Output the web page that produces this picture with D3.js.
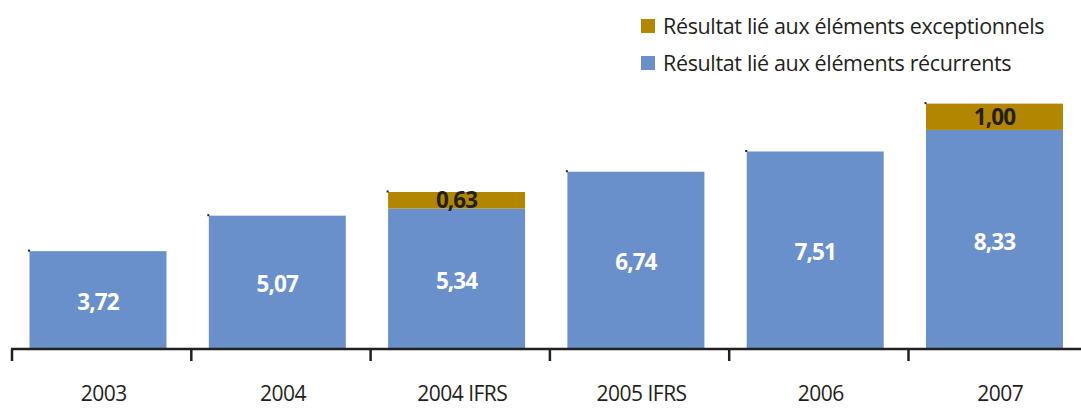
<!DOCTYPE html>
<html><head><meta charset="utf-8">
<script src="https://cdn.jsdelivr.net/npm/d3@7/dist/d3.min.js"></script>
<style>html,body{margin:0;padding:0;background:#fff;}svg{display:block;}</style>
</head><body>
<svg id="c" width="1081" height="409"></svg>
<script>
const categories = ["2003","2004","2004 IFRS","2005 IFRS","2006","2007"];
const recurrent = [3.72, 5.07, 5.34, 6.74, 7.51, 8.33];
const exceptional = [null, null, 0.63, null, null, 1.00];
const seriesNames = ["Résultat lié aux éléments exceptionnels","Résultat lié aux éléments récurrents"];
const colors = {rec:"#6990CB", exc:"#B38600", ink:"#231F20"};
const fmt = v => v.toFixed(2).replace(".", ",");

const svg = d3.select("#c");
const font = "'Open Sans', 'Noto Sans', sans-serif";
const x = d3.scaleBand().domain(categories).range([12, 12 + 6*179.3]).paddingInner(0).paddingOuter(0);
const y = d3.scaleLinear().domain([0, 10]).range([349, 349 - 263]);
const bw = x.bandwidth();
const barOff = bw*0.0976, barW = bw*0.764;

const g = svg.append("g");
g.selectAll("rect.rec").data(categories).enter().append("rect")
  .attr("x", d => x(d) + barOff).attr("width", barW)
  .attr("y", (d,i) => y(recurrent[i])).attr("height", (d,i) => y(0) - y(recurrent[i]))
  .attr("fill", colors.rec);
g.selectAll("rect.exc").data(categories.filter((d,i)=>exceptional[i]!=null)).enter().append("rect")
  .attr("x", d => x(d) + barOff).attr("width", barW)
  .attr("y", d => { const i = categories.indexOf(d); return y(recurrent[i] + exceptional[i]); })
  .attr("height", d => { const i = categories.indexOf(d); return y(recurrent[i]) - y(recurrent[i] + exceptional[i]); })
  .attr("fill", colors.exc);
g.selectAll("rect.dot").data(categories).enter().append("rect")
  .attr("x", d => x(d) + barOff - 1.5).attr("width", 2)
  .attr("y", (d,i) => y(recurrent[i] + (exceptional[i]||0)) - 1.5).attr("height", 2)
  .attr("fill", colors.ink);

g.selectAll("text.rec").data(categories).enter().append("text")
  .attr("x", d => x(d) + barOff + barW/2)
  .attr("y", (d,i) => (y(recurrent[i]) + y(0))/2 + 2)
  .attr("dy", "0.36em").attr("text-anchor","middle")
  .attr("font-family", font).attr("font-weight", 700).attr("font-size", 22.5)
  .attr("letter-spacing", -0.9)
  .attr("fill", "#fff").text((d,i) => fmt(recurrent[i]));
g.selectAll("text.exc").data(categories.filter((d,i)=>exceptional[i]!=null)).enter().append("text")
  .attr("x", d => x(d) + barOff + barW/2)
  .attr("y", d => { const i = categories.indexOf(d); return (y(recurrent[i]) + y(recurrent[i]+exceptional[i]))/2; })
  .attr("dy", "0.36em").attr("text-anchor","middle")
  .attr("font-family", font).attr("font-weight", 700).attr("font-size", 22.5)
  .attr("letter-spacing", -0.9)
  .attr("fill", colors.ink).text(d => fmt(exceptional[categories.indexOf(d)]));

const axis = d3.axisBottom(x).tickSize(12).tickSizeOuter(0).tickFormat(() => "");
const ag = svg.append("g").attr("transform", "translate(0,349)").call(axis);
ag.select(".domain").remove();
ag.selectAll(".tick").attr("transform", d => `translate(${x(d)},0)`);
ag.selectAll(".tick line").attr("stroke", colors.ink).attr("stroke-width", 2.5);
svg.append("line").attr("x1", 11).attr("x2", 1081).attr("y1", 349).attr("y2", 349)
  .attr("stroke", colors.ink).attr("stroke-width", 2.5);
svg.selectAll("text.cat").data(categories).enter().append("text")
  .attr("x", d => x(d) + bw/2 + 2).attr("y", 401)
  .attr("text-anchor","middle").attr("font-family", font).attr("font-size", 21)
  .attr("letter-spacing", -0.5)
  .attr("fill", colors.ink).text(d => d);

const leg = svg.append("g");
const legColors = [colors.exc, colors.rec];
seriesNames.forEach((n,i) => {
  const yy = 26 + i*37;
  leg.append("rect").attr("x", 641).attr("y", yy-7).attr("width", 14).attr("height", 14).attr("fill", legColors[i]);
  leg.append("text").attr("x", 663).attr("y", yy).attr("dy","0.35em")
    .attr("font-family", font).attr("font-size", 21.5).attr("letter-spacing", -0.35)
    .attr("fill", colors.ink).text(n);
});
</script>
</body></html>
